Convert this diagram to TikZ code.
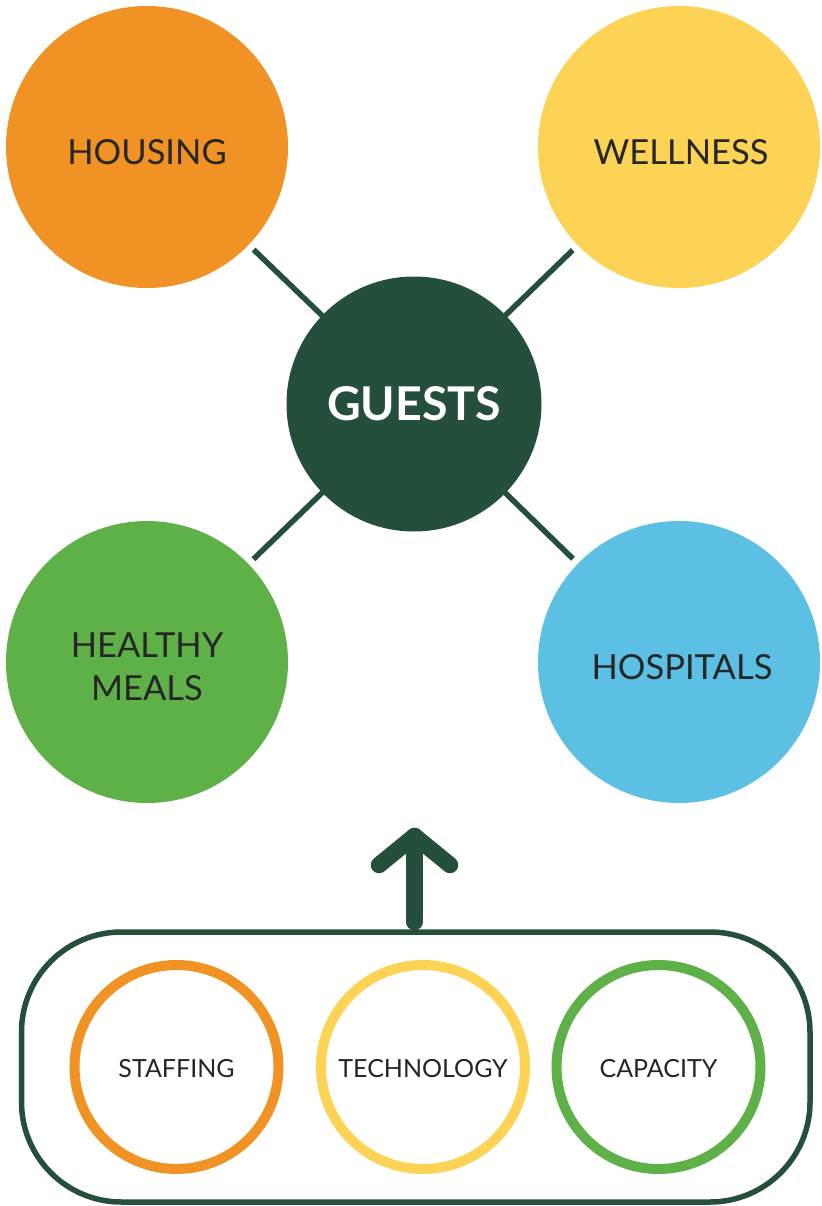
\documentclass[tikz,border=0pt]{standalone}
\usepackage{fontspec}
\setmainfont{Lato}
\definecolor{cOrange}{HTML}{F09224}
\definecolor{cYellow}{HTML}{FDD355}
\definecolor{cGreen}{HTML}{5EB147}
\definecolor{cBlue}{HTML}{5BC0E3}
\definecolor{cDark}{HTML}{234F3B}
\definecolor{cText}{HTML}{262626}
\begin{document}
\begin{tikzpicture}[x=1pt,y=-1pt,
  bigdot/.style={circle,minimum size=282pt,inner sep=0pt,outer sep=0pt,draw=none},
  hubdot/.style={circle,minimum size=255pt,inner sep=0pt,outer sep=0pt,fill=cDark},
  ringdot/.style={circle,minimum size=204pt,inner sep=0pt,outer sep=0pt,line width=10pt,fill=white},
  biglbl/.style={text=cText,font=\fontsize{34.5}{43.5}\selectfont,align=center,inner sep=0pt},
  hublbl/.style={text=white,font=\fontsize{46.5}{56}\selectfont\bfseries,inner sep=0pt},
  smalllbl/.style={text=cText,font=\fontsize{25}{29}\selectfont,inner sep=0pt},
  spoke/.style={draw=cDark,line width=5.5pt,shorten <=7pt,shorten >=-3pt},
  uparrow/.style={draw=cDark,line width=16.5pt,line cap=round,line join=round},
  frame/.style={draw=cDark,line width=5.5pt,rounded corners=100pt}]
\useasboundingbox (0,0) rectangle (821,1206);

% outer circles and the hub
\node[bigdot,fill=cOrange] (housing) at (147,147) {};
\node[bigdot,fill=cYellow] (wellness) at (679,147) {};
\node[bigdot,fill=cGreen] (meals) at (147,662) {};
\node[bigdot,fill=cBlue] (hospitals) at (679,662) {};
\node[hubdot] (guests) at (414,404) {};

% spokes
\draw[spoke] (housing) -- (guests);
\draw[spoke] (wellness) -- (guests);
\draw[spoke] (meals) -- (guests);
\draw[spoke] (hospitals) -- (guests);

% labels
\node[biglbl] (housing-l) at ([yshift=-5.5pt]housing.center) {HOUSING};
\node[biglbl] (wellness-l) at ([yshift=-5.5pt,xshift=2pt]wellness.center) {WELLNESS};
\node[biglbl] (meals-l) at ([yshift=-5pt]meals.center) {HEALTHY\\MEALS};
\node[biglbl] (hospitals-l) at ([yshift=-5.5pt,xshift=3pt]hospitals.center) {HOSPITALS};
\node[hublbl] (guests-l) at (guests.center) {GUESTS};

% foundation box with its three rings
\draw[frame] (21.5,932) rectangle (810,1202);
\node[ringdot,draw=cOrange] (staffing) at (176.5,1067) {};
\node[ringdot,draw=cYellow] (technology) at (423,1067) {};
\node[ringdot,draw=cGreen] (capacity) at (658.5,1067) {};
\node[smalllbl] (staffing-l) at ([yshift=-2pt]staffing.center) {STAFFING};
\node[smalllbl] (technology-l) at ([yshift=-2pt]technology.center) {TECHNOLOGY};
\node[smalllbl] (capacity-l) at ([yshift=-2pt]capacity.center) {CAPACITY};

% upward arrow from the box towards the hub
\coordinate (arrow-base) at (414.5,922);
\coordinate (arrow-tip) at (414.5,836);
\coordinate (arrow-left) at (379,865);
\coordinate (arrow-right) at (450,865);
\draw[uparrow] (arrow-base) -- (arrow-tip);
\draw[uparrow] (arrow-left) -- (arrow-tip) -- (arrow-right);
\end{tikzpicture}
\end{document}
